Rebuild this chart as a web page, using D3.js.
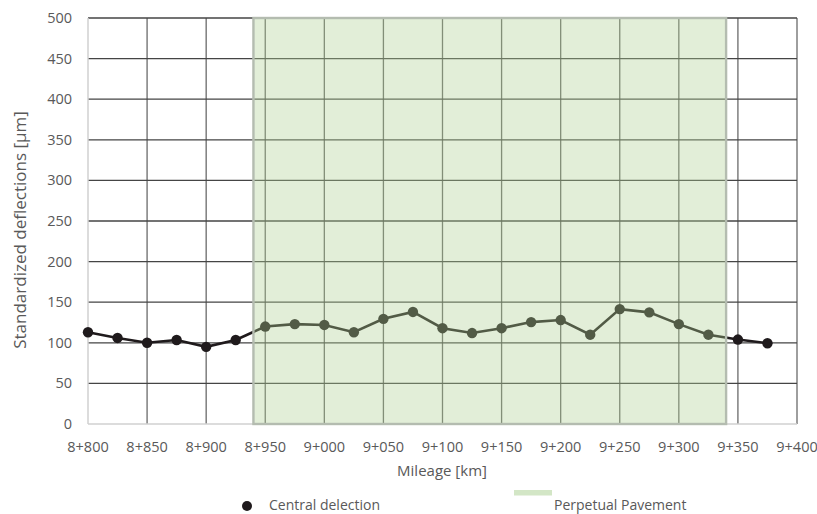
<!DOCTYPE html>
<html>
<head>
<meta charset="utf-8">
<script src="https://cdn.jsdelivr.net/npm/d3@7/dist/d3.min.js"></script>
<style>
  html, body { margin: 0; padding: 0; background: #fff; }
  svg { display: block; font-family: "Open Sans", Lato, sans-serif; }
  text { fill: #595959; }
</style>
</head>
<body>
<svg id="chart" width="817" height="514"></svg>
<script>
// Chainage in metres from km 8 (8+800 -> 800, 9+000 -> 1000)
const chainage = [800, 825, 850, 875, 900, 925, 950, 975, 1000, 1025, 1050, 1075, 1100,
                  1125, 1150, 1175, 1200, 1225, 1250, 1275, 1300, 1325, 1350, 1375];
// Standardized central deflection [µm]
const deflection = [113, 106, 100, 103.5, 95, 103.5, 120, 123, 122, 113, 129.5, 138, 118,
                    112, 118, 125.5, 128, 110, 141.5, 137.5, 123, 110, 104, 99.5];
// Perpetual pavement section [start, end]
const pavementSection = [940, 1340];
// Axis ticks
const xTicks = [800, 850, 900, 950, 1000, 1050, 1100, 1150, 1200, 1250, 1300, 1350, 1400];
const yTicks = [0, 50, 100, 150, 200, 250, 300, 350, 400, 450, 500];

const fmtChainage = m => `${Math.floor(m / 1000) + 8}+${String(m % 1000).padStart(3, "0")}`;

const svg = d3.select("#chart");
const plot = { left: 88, right: 797, top: 18, bottom: 424 };

const x = d3.scaleLinear().domain([800, 1400]).range([plot.left, plot.right]);
const y = d3.scaleLinear().domain([0, 500]).range([plot.bottom, plot.top]);

// Gridlines
svg.append("g").selectAll("line").data(xTicks.slice(1)).join("line")
  .attr("x1", d => x(d)).attr("x2", d => x(d))
  .attr("y1", plot.top).attr("y2", plot.bottom)
  .attr("stroke", "#6a6a6a").attr("stroke-width", 1.3);
svg.append("g").selectAll("line").data(yTicks.slice(1)).join("line")
  .attr("x1", plot.left).attr("x2", plot.right)
  .attr("y1", d => y(d)).attr("y2", d => y(d))
  .attr("stroke", "#454545").attr("stroke-width", 1.3);

// Axis lines
svg.append("line").attr("x1", plot.left).attr("x2", plot.left)
  .attr("y1", plot.top).attr("y2", plot.bottom)
  .attr("stroke", "#d0d0d0").attr("stroke-width", 1.5);
svg.append("line").attr("x1", plot.left).attr("x2", plot.right)
  .attr("y1", plot.bottom).attr("y2", plot.bottom)
  .attr("stroke", "#d0d0d0").attr("stroke-width", 1.5);

// Deflection line and markers
const line = d3.line().x((d, i) => x(chainage[i])).y(d => y(d));
svg.append("path").datum(deflection)
  .attr("d", line).attr("fill", "none")
  .attr("stroke", "#1f1a1c").attr("stroke-width", 2.6);
svg.append("g").selectAll("circle").data(deflection).join("circle")
  .attr("cx", (d, i) => x(chainage[i])).attr("cy", d => y(d))
  .attr("r", 5.2).attr("fill", "#1f1a1c");

// Perpetual pavement band (translucent, drawn over the series)
svg.append("rect")
  .attr("x", x(pavementSection[0])).attr("y", y(500))
  .attr("width", x(pavementSection[1]) - x(pavementSection[0]))
  .attr("height", y(0) - y(500))
  .attr("fill", "rgb(176,208,146)").attr("fill-opacity", 0.36)
  .attr("stroke", "#b4bcb0").attr("stroke-width", 2.4);

// Tick labels
svg.append("g").selectAll("text").data(xTicks).join("text")
  .attr("x", d => x(d)).attr("y", 452)
  .attr("text-anchor", "middle").attr("font-size", 14.5)
  .text(fmtChainage);
svg.append("g").selectAll("text").data(yTicks).join("text")
  .attr("x", 72).attr("y", d => y(d) + 5)
  .attr("text-anchor", "end").attr("font-size", 14.5)
  .text(d => d);

// Axis titles
svg.append("text").attr("x", 442).attr("y", 476)
  .attr("text-anchor", "middle").attr("font-size", 15)
  .text("Mileage [km]");
svg.append("text")
  .attr("transform", "translate(26,230) rotate(-90)")
  .attr("text-anchor", "middle").attr("font-size", 17)
  .text("Standardized deflections [µm]");

// Legend
svg.append("circle").attr("cx", 247).attr("cy", 506).attr("r", 5).attr("fill", "#1f1a1c");
svg.append("text").attr("x", 269).attr("y", 509.5).attr("font-size", 14).text("Central delection");
svg.append("rect").attr("x", 514).attr("y", 490).attr("width", 38).attr("height", 5.5)
  .attr("fill", "#d3e6c6");
svg.append("text").attr("x", 554).attr("y", 509.5).attr("font-size", 14).text("Perpetual Pavement");
</script>
</body>
</html>
